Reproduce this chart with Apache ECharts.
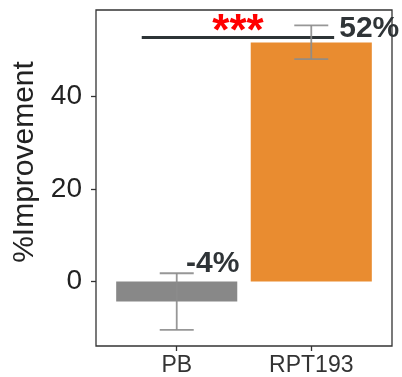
<!DOCTYPE html>
<html>
<head>
<meta charset="utf-8">
<script src="https://cdn.jsdelivr.net/npm/echarts@6/dist/echarts.min.js"></script>
<style>
  html, body { margin: 0; padding: 0; background: #fff; }
  #chart { width: 402px; height: 377px; }
</style>
</head>
<body>
<div id="chart"></div>
<script>
// data
const categories = ['PB', 'RPT193'];
const means = [-4.3, 51.6];
const errLow = [-10.4, 48.0];
const errHigh = [1.8, 55.3];
const pctLabels = ['-4%', '52%'];
const barColors = ['#888888', '#E98C30'];
const yTicks = [0, 20, 40];
const sigLine = [0.74, 2.17, 52.7]; // from, to, level
const sigText = '***';

const xPos = categories.map((c, i) => i + 1);
const font = 'Liberation Sans, Arial, Helvetica, sans-serif';

var chart = echarts.init(document.getElementById('chart'));

chart.setOption({
  animation: false,
  grid: {
    left: 96, right: 10, top: 10, bottom: 29,
    show: true,
    borderColor: '#333',
    borderWidth: 1.3,
    backgroundColor: 'transparent'
  },
  xAxis: {
    type: 'value',
    min: 0.4,
    max: 2.6,
    splitLine: { show: false },
    axisLine: { show: false, onZero: false },
    axisTick: { show: true, customValues: xPos, length: 5, lineStyle: { color: '#333', width: 1.3 } },
    axisLabel: {
      customValues: xPos,
      margin: 8,
      fontFamily: font,
      fontSize: 23,
      color: '#333',
      formatter: function (v) { return categories[Math.round(v) - 1] || ''; }
    }
  },
  yAxis: {
    type: 'value',
    min: -13.9,
    max: 58.6,
    name: '%Improvement',
    nameLocation: 'middle',
    nameGap: 52,
    nameTextStyle: { fontFamily: font, fontSize: 30, color: '#222', padding: [0, 0, 0, 32] },
    splitLine: { show: false },
    axisLine: { show: false, onZero: false },
    axisTick: { show: true, customValues: yTicks, length: 5, lineStyle: { color: '#333', width: 1.3 } },
    axisLabel: { customValues: yTicks, margin: 14, fontFamily: font, fontSize: 28, color: '#222' }
  },
  series: [
    {
      type: 'bar',
      barWidth: '90%',
      data: xPos.map((x, i) => ({ value: [x, means[i]], itemStyle: { color: barColors[i] } })),
      markLine: {
        silent: true,
        symbol: 'none',
        lineStyle: { color: '#2d3436', width: 3, type: 'solid' },
        label: {
          show: true,
          position: 'middle',
          formatter: sigText,
          color: '#ff0000',
          fontFamily: font,
          fontWeight: 'bold',
          fontSize: 44,
          distance: -18
        },
        data: [[{ coord: [sigLine[0], sigLine[2]] }, { coord: [sigLine[1], sigLine[2]] }]]
      }
    },
    {
      type: 'custom',
      data: xPos.map((x, i) => [x, errLow[i], errHigh[i]]),
      z: 5,
      renderItem: function (params, api) {
        const x = api.value(0);
        const lo = api.coord([x, api.value(1)]);
        const hi = api.coord([x, api.value(2)]);
        const hw = 17;
        const style = { stroke: 'rgba(140,140,140,0.9)', lineWidth: 1.8 };
        return {
          type: 'group',
          children: [
            { type: 'line', shape: { x1: hi[0], y1: hi[1], x2: lo[0], y2: lo[1] }, style: style },
            { type: 'line', shape: { x1: hi[0] - hw, y1: hi[1], x2: hi[0] + hw, y2: hi[1] }, style: style },
            { type: 'line', shape: { x1: lo[0] - hw, y1: lo[1], x2: lo[0] + hw, y2: lo[1] }, style: style }
          ]
        };
      }
    },
    {
      // percentage annotations
      type: 'custom',
      data: xPos.map((x, i) => [x, i]),
      z: 6,
      renderItem: function (params, api) {
        const i = api.value(1);
        const base = api.coord([api.value(0), i === 0 ? 0 : errHigh[i]]);
        const dx = i === 0 ? 36 : 58;
        const dy = i === 0 ? -18 : 3;
        return {
          type: 'text',
          style: {
            x: base[0] + dx,
            y: base[1] + dy,
            text: pctLabels[i],
            fill: '#2f3437',
            font: 'bold 30px ' + font,
            align: 'center',
            verticalAlign: 'middle'
          }
        };
      }
    }
  ]
});
</script>
</body>
</html>
